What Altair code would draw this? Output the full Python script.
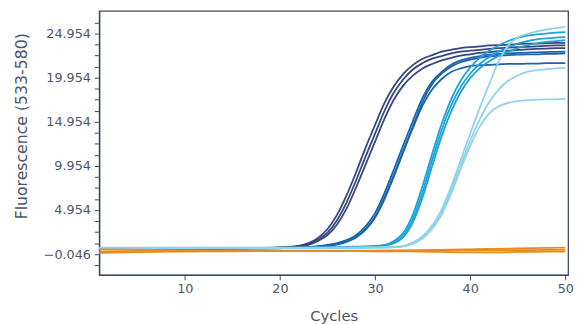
import altair as alt
import pandas as pd

cycles = [1, 5, 10, 15, 18, 20, 22, 23, 24, 25, 26, 27, 28, 29, 30, 31, 32, 33, 34,
          35, 36, 37, 38, 39, 40, 41, 42, 43, 44, 45, 46, 47, 48, 49, 50]

navy_1 = [0.62, 0.62, 0.6, 0.62, 0.66, 0.72, 0.9, 1.2, 1.8, 2.8, 4.4, 6.6, 9.2, 12.0, 14.6, 17.1,
          19.0, 20.4, 21.4, 22.1, 22.5, 22.9, 23.1, 23.3, 23.4, 23.5, 23.6, 23.65, 23.7, 23.75,
          23.8, 23.82, 23.85, 23.88, 23.9]
navy_2 = [0.6, 0.6, 0.6, 0.6, 0.64, 0.7, 0.85, 1.1, 1.6, 2.4, 3.8, 5.8, 8.3, 11.0, 13.6, 16.2,
          18.3, 19.8, 20.9, 21.6, 22.1, 22.4, 22.7, 22.9, 23.0, 23.1, 23.2, 23.3, 23.35, 23.4,
          23.45, 23.5, 23.55, 23.6, 23.6]
navy_3 = [0.58, 0.58, 0.58, 0.6, 0.63, 0.68, 0.8, 1.0, 1.45, 2.1, 3.3, 5.1, 7.5, 10.1, 12.7, 15.3,
          17.5, 19.1, 20.2, 21.0, 21.5, 21.9, 22.2, 22.45, 22.6, 22.75, 22.85, 22.95, 23.0, 23.1,
          23.15, 23.2, 23.25, 23.3, 23.3]

blue_1 = [0.62, 0.62, 0.62, 0.62, 0.63, 0.65, 0.7, 0.75, 0.85, 1.0, 1.2, 1.55, 2.1, 3.1, 4.6, 6.9,
          9.6, 12.4, 15.1, 17.7, 19.5, 20.6, 21.4, 21.9, 22.2, 22.4, 22.55, 22.65, 22.7, 22.75,
          22.8, 22.82, 22.85, 22.88, 22.9]
blue_2 = [0.6, 0.6, 0.6, 0.6, 0.62, 0.64, 0.68, 0.72, 0.8, 0.9, 1.1, 1.4, 1.9, 2.8, 4.2, 6.4,
          9.0, 11.8, 14.5, 17.2, 19.2, 20.4, 21.2, 21.7, 22.0, 22.2, 22.35, 22.45, 22.5, 22.55,
          22.6, 22.6, 22.65, 22.65, 22.7]
blue_3 = [0.58, 0.58, 0.58, 0.6, 0.6, 0.62, 0.66, 0.7, 0.78, 0.88, 1.05, 1.35, 1.85, 2.7, 4.1, 6.2,
          8.8, 11.6, 14.3, 16.8, 18.6, 19.8, 20.6, 21.0, 21.25, 21.35, 21.4, 21.45, 21.5, 21.5,
          21.55, 21.55, 21.6, 21.6, 21.6]

cyan_1 = [0.66, 0.66, 0.65, 0.65, 0.66, 0.68, 0.7, 0.7, 0.72, 0.74, 0.76, 0.78, 0.8, 0.82, 0.88, 1.0,
          1.45, 2.4, 4.5, 7.7, 11.3, 14.7, 17.5, 19.6, 21.1, 22.2, 23.0, 23.6, 24.1, 24.45,
          24.7, 24.85, 24.95, 25.05, 25.1]
cyan_2 = [0.64, 0.64, 0.64, 0.64, 0.64, 0.65, 0.66, 0.66, 0.67, 0.68, 0.7, 0.72, 0.74, 0.76, 0.82, 0.95,
          1.3, 2.1, 4.0, 7.0, 10.6, 14.0, 16.8, 18.9, 20.4, 21.5, 22.3, 22.9, 23.4, 23.8,
          24.1, 24.3, 24.4, 24.5, 24.55]
cyan_3 = [0.62, 0.62, 0.62, 0.62, 0.62, 0.63, 0.64, 0.65, 0.66, 0.67, 0.68, 0.7, 0.72, 0.74, 0.78, 0.9,
          1.2, 1.9, 3.6, 6.4, 9.9, 13.3, 16.1, 18.3, 19.9, 21.0, 21.8, 22.4, 22.9, 23.3,
          23.6, 23.85, 24.0, 24.1, 24.2]

light_1 = [0.68, 0.68, 0.68, 0.68, 0.68, 0.68, 0.68, 0.68, 0.68, 0.68, 0.69, 0.7, 0.7, 0.71, 0.72, 0.74,
           0.78, 0.9, 1.3, 2.0, 3.2, 5.0, 7.6, 10.6, 13.6, 16.5, 19.2, 21.8, 23.6, 24.5,
           24.9, 25.2, 25.4, 25.55, 25.7]
light_2 = [0.66, 0.66, 0.66, 0.66, 0.66, 0.66, 0.66, 0.66, 0.66, 0.66, 0.67, 0.68, 0.68, 0.69, 0.7, 0.72,
           0.76, 0.86, 1.2, 1.8, 2.9, 4.6, 7.1, 10.0, 12.8, 15.2, 17.2, 18.6, 19.6, 20.2,
           20.6, 20.8, 20.9, 21.0, 21.05]
light_3 = [0.64, 0.64, 0.64, 0.64, 0.64, 0.64, 0.64, 0.64, 0.64, 0.65, 0.65, 0.66, 0.66, 0.67, 0.68, 0.7,
           0.74, 0.84, 1.15, 1.75, 2.8, 4.4, 6.8, 9.6, 12.2, 14.4, 15.9, 16.7, 17.1, 17.3,
           17.4, 17.45, 17.5, 17.5, 17.55]

orange_cycles = [1, 5, 10, 15, 20, 25, 30, 35, 38, 40, 42, 45, 48, 50]
orange_1 = [0.5, 0.45, 0.4, 0.38, 0.36, 0.35, 0.36, 0.4, 0.45, 0.5, 0.55, 0.6, 0.65, 0.7]
orange_2 = [0.25, 0.28, 0.3, 0.3, 0.32, 0.32, 0.32, 0.35, 0.38, 0.4, 0.41, 0.42, 0.43, 0.43]
orange_3 = [0.1, 0.18, 0.24, 0.27, 0.3, 0.3, 0.28, 0.25, 0.18, 0.14, 0.14, 0.2, 0.24, 0.25]

y_tick_values = [-1.296, -0.046, 1.204, 2.454, 3.704, 4.954, 6.204, 7.454, 8.704, 9.954,
                 11.204, 12.454, 13.704, 14.954, 16.204, 17.454, 18.704, 19.954, 21.204,
                 22.454, 23.704, 24.954, 26.204]
x_tick_values = [10, 20, 30, 40, 50]

series = [
    ("navy_1", cycles, navy_1, "#34477c"),
    ("navy_2", cycles, navy_2, "#34477c"),
    ("navy_3", cycles, navy_3, "#34477c"),
    ("blue_1", cycles, blue_1, "#1b64ab"),
    ("blue_2", cycles, blue_2, "#1b64ab"),
    ("blue_3", cycles, blue_3, "#1b64ab"),
    ("cyan_1", cycles, cyan_1, "#1aa3d9"),
    ("cyan_2", cycles, cyan_2, "#1aa3d9"),
    ("cyan_3", cycles, cyan_3, "#1aa3d9"),
    ("light_1", cycles, light_1, "#8fd2eb"),
    ("light_2", cycles, light_2, "#8fd2eb"),
    ("light_3", cycles, light_3, "#8fd2eb"),
    ("orange_1", orange_cycles, orange_1, "#e98a1c"),
    ("orange_2", orange_cycles, orange_2, "#e98a1c"),
    ("orange_3", orange_cycles, orange_3, "#e98a1c"),
]

rows = []
for name, xs, ys, _ in series:
    for c, v in zip(xs, ys):
        rows.append({"series": name, "cycle": c, "value": v})
df = pd.DataFrame(rows)

names = [s[0] for s in series]
colors = [s[3] for s in series]

label_expr = ("abs(round((datum.value + 0.046) / 5) * 5 - (datum.value + 0.046)) < 0.01 "
              "? format(datum.value, '.3f') : ''")

chart = (
    alt.Chart(df)
    .mark_line(interpolate="monotone", strokeWidth=1.8)
    .encode(
        x=alt.X("cycle:Q",
                scale=alt.Scale(domain=[1, 50.3], nice=False, zero=False),
                axis=alt.Axis(values=x_tick_values, title="Cycles", grid=False,
                              labelFontSize=13, titleFontSize=15, tickSize=5,
                              labelPadding=3, titlePadding=13)),
        y=alt.Y("value:Q",
                scale=alt.Scale(domain=[-2.4, 27.5], nice=False, zero=False),
                axis=alt.Axis(values=y_tick_values, labelExpr=label_expr,
                              title="Fluorescence (533-580)", grid=False,
                              labelFontSize=13, titleFontSize=16, tickSize=5,
                              labelPadding=4, titlePadding=14, labelOverlap=False,
                              titleY=117)),
        color=alt.Color("series:N", scale=alt.Scale(domain=names, range=colors), legend=None),
        detail="series:N",
    )
    .properties(width=478, height=269,
                padding={"left": 5, "top": 0, "right": 0, "bottom": 0})
    .configure_view(stroke="#3a4860", strokeWidth=1.3)
    .configure_axis(
        domainColor="#3a4860", domainWidth=1.3, tickColor="#3a4860",
        labelColor="#4a566a", titleColor="#4a566a",
        labelFont="DejaVu Sans", titleFont="DejaVu Sans", titleFontWeight="normal",
    )
)

chart.save("out.html", embed_options={"renderer": "svg", "actions": False})
